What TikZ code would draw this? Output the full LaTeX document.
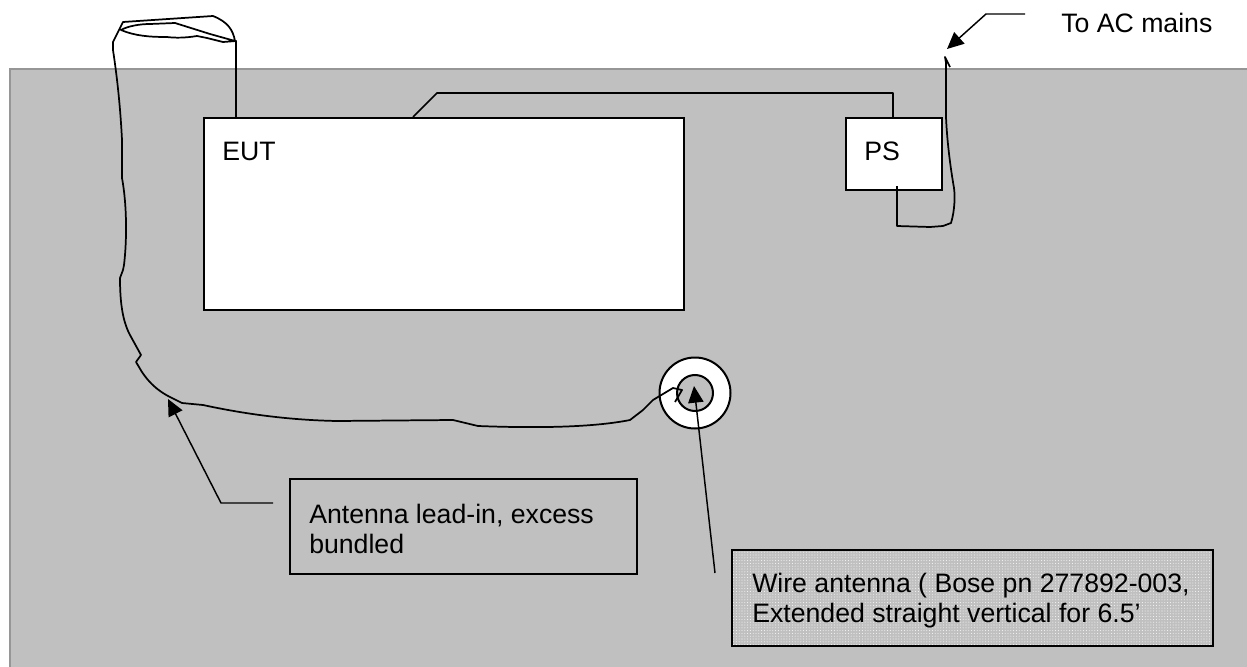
\documentclass[tikz,border=0pt]{standalone}
\usepackage{fontspec}
\setmainfont{Liberation Sans}
\usetikzlibrary{arrows.meta,patterns.meta}
\definecolor{benchgrey}{HTML}{C0C0C0}
\definecolor{edgegrey}{HTML}{969696}
\tikzset{
  >={Triangle[length=12.5pt,width=11.5pt]},
  box/.style={draw=black,fill=white,line width=1.5pt,inner sep=0pt,anchor=north west},
  lbl/.style={font=\fontsize{20pt}{22.5pt}\selectfont,align=left,inner sep=0pt,anchor=base west},
  wire/.style={draw=black,line width=1.3pt,line join=round},
  lead/.style={draw=black,line width=1.1pt,line join=round},
}
\begin{document}
\begin{tikzpicture}[x=0.75pt,y=-0.75pt]
  \useasboundingbox (0,0) rectangle (1247,667);
  % bench
  \node[draw=edgegrey,fill=benchgrey,line width=1.4pt,inner sep=0pt,minimum width=1245*0.75pt,minimum height=606*0.75pt,anchor=north west] (bench) at (9,68) {};
  % units
  \node[box,minimum width=480*0.75pt,minimum height=192*0.75pt] (eut) at (203,117) {};
  \node[box,minimum width=96*0.75pt,minimum height=72*0.75pt] (ps) at (845,117) {};
  \node[lbl] (eutlbl) at (222,161) {EUT};
  \node[lbl] (pslbl) at (864,161) {PS};
  % antenna base
  \node[circle,draw=black,fill=white,line width=1.5pt,minimum size=71*0.75pt,inner sep=0pt] (base) at (695,393) {};
  \node[circle,draw=black,fill=benchgrey,line width=1.5pt,minimum size=36*0.75pt,inner sep=0pt] (hub) at (695,393) {};
  % notes
  \node[box,fill=benchgrey,minimum width=347*0.75pt,minimum height=95*0.75pt] (leadnote) at (289,478) {};
  \node[box,preaction={fill=benchgrey},pattern={Dots[distance=2.1pt,radius=0.4pt]},pattern color=white!85!benchgrey,minimum width=481*0.75pt,minimum height=96*0.75pt] (wirenote) at (731,549) {};
  \node[lbl] (leadlbl) at (309,553) {Antenna lead-in, excess\\bundled};
  \node[lbl] (wirelbl) at (752,622) {Wire antenna ( Bose pn 277892-003,\\Extended straight vertical for 6.5’};
  \node[lbl] (mainslbl) at (1061,33) {To AC mains};
  % free ends
  \coordinate (m0) at (1025,14);
  \coordinate (m1) at (986,14);
  \coordinate (m2) at (947,49);
  \coordinate (l0) at (273,503);
  \coordinate (l1) at (221,503);
  \coordinate (l2) at (168,399);
  \coordinate (w0) at (715,573);
  \coordinate (w1) at (694,386);
  % pointers
  \draw[lead,->] (m0) -- (m1) -- (m2);
  \draw[lead,->] (l0) -- (l1) -- (l2);
  \draw[lead,->] (w0) -- (w1);
  % power
  \draw[wire] (413,117) -- (437,93) -- (893,93) -- (893,117);
  \draw[wire] (897,186) -- (897,226) -- (930,227) -- (943,226) -- (951,223)
    .. controls (955,210) and (955,195) .. (954,188)
    .. controls (950,165) and (947,140) .. (946,117) -- (946,63) -- (945,57) -- (950,67);
  % antenna lead
  \draw[wire] (236,117) -- (236,41) -- (223,42) -- (207,38) -- (197,36)
    .. controls (185,38) and (175,38) .. (167,37)
    .. controls (150,37) and (135,36) .. (121,30)
    .. controls (128,26) and (140,24) .. (150,24) -- (175,23) -- (210,34) -- (235,41)
    .. controls (233,30) and (228,22) .. (213,16) -- (123,22) -- (113,42) -- (113,50)
    .. controls (116,70) and (120,100) .. (122,140) -- (122,178)
    .. controls (127,205) and (127,240) .. (124,265) -- (123,270) -- (120,278)
    .. controls (120,300) and (122,320) .. (130,335) -- (141,355) -- (136,362) -- (139,367)
    .. controls (145,378) and (155,390) .. (172,398) -- (182,403) -- (203,405)
    .. controls (240,413) and (285,420) .. (337,421) -- (453,420) -- (478,426)
    .. controls (530,428) and (590,428) .. (630,420)
    -- (643,410) -- (653,400) -- (673,388) -- (682,390) -- (675,402);
\end{tikzpicture}
\end{document}
